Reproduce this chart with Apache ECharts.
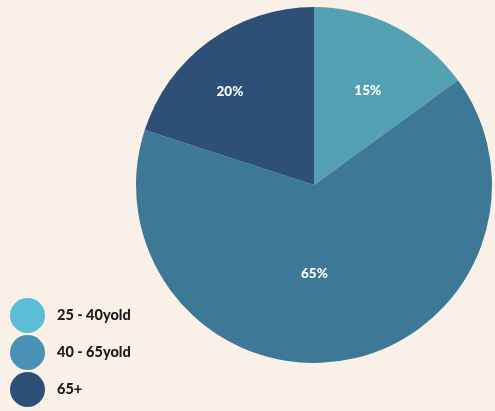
<!DOCTYPE html>
<html>
<head>
<meta charset="utf-8">
<script src="https://cdn.jsdelivr.net/npm/echarts@6/dist/echarts.min.js"></script>
<style>
  html, body { margin: 0; padding: 0; background: #f9f0e7; }
  #chart { width: 495px; height: 411px; }
</style>
</head>
<body>
<div id="chart"></div>
<script>
// Age groups and their share (percent)
const categories = ['25 - 40yold', '40 - 65yold', '65+'];
const shares = [15, 65, 20];
const sliceColors = ['#55a1b4', '#3d7897', '#2e5077'];
const legendColors = ['#5bbdd6', '#4a92b5', '#2d4f78'];
// nudges for the in-slice percentage labels
const labelOffsets = [[12, -12], [-14, -2], [-30, -19]];

const chart = echarts.init(document.getElementById('chart'), null, { renderer: 'canvas' });

chart.setOption({
  backgroundColor: '#f9f0e7',
  animation: false,
  legend: {
    orient: 'vertical',
    left: 10,
    top: 298,
    padding: 0,
    icon: 'circle',
    itemWidth: 35,
    itemHeight: 35,
    itemGap: 2,
    selectedMode: false,
    textStyle: {
      fontFamily: 'Lato',
      fontWeight: 900,
      fontSize: 14.5,
      color: '#1a1a1a',
      padding: [0, 0, 0, 7]
    },
    data: categories.map((name, i) => ({ name, itemStyle: { color: legendColors[i] } }))
  },
  series: [{
    type: 'pie',
    center: [314, 185],
    radius: 178,
    startAngle: 90,
    clockwise: true,
    silent: true,
    label: {
      show: true,
      position: 'inside',
      formatter: '{c}%',
      color: '#ffffff',
      fontFamily: 'Lato',
      fontWeight: 900,
      fontSize: 13.5
    },
    labelLine: { show: false },
    itemStyle: { borderWidth: 0 },
    data: categories.map((name, i) => ({
      name,
      value: shares[i],
      itemStyle: { color: sliceColors[i] },
      label: { offset: labelOffsets[i] }
    }))
  }]
});
</script>
</body>
</html>
